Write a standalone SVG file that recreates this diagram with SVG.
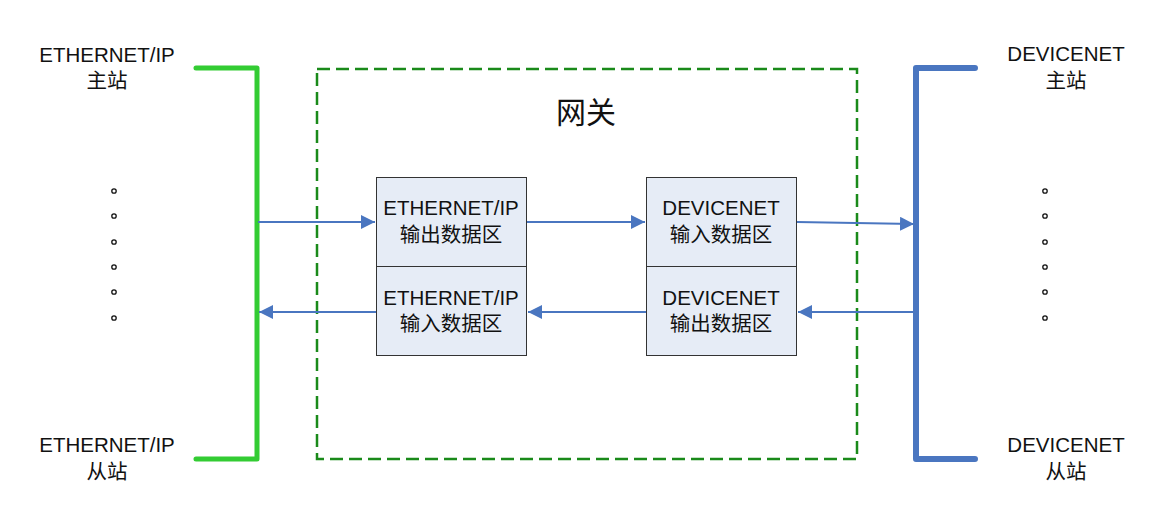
<svg xmlns="http://www.w3.org/2000/svg" width="1167" height="530" viewBox="0 0 1167 530">
<defs>
<style>
text{font-family:"Liberation Sans","Noto Sans CJK SC",sans-serif;font-size:20.5px;fill:#111;text-anchor:middle}
text.cjk{font-family:"Noto Sans CJK SC","Liberation Sans",sans-serif;font-size:20.5px}
.box{fill:#e6ecf6;stroke:#333;stroke-width:1}
.conn{stroke:#4a76c0;stroke-width:2;fill:none}
.dot{fill:none;stroke:#111;stroke-width:1.3}
</style>
<marker id="ah" viewBox="0 0 10 10" refX="10" refY="5" markerWidth="14" markerHeight="14" markerUnits="userSpaceOnUse" orient="auto"><path d="M0,0 L10,5 L0,10 z" fill="#4a76c0"/></marker>
</defs>
<rect width="1167" height="530" fill="#fff"/>
<g id="gateway">
<rect x="317" y="69" width="540" height="390" fill="none" stroke="#1a8a1a" stroke-width="2.5" stroke-dasharray="13,6"/>
<text class="cjk" x="586" y="123" style="font-size:30px">网关</text>
</g>
<g id="eth-bus">
<path d="M196,68 H257 V459 H196" fill="none" stroke="#33cc33" stroke-width="5" stroke-linecap="round" stroke-linejoin="round"/>
</g>
<g id="dn-bus">
<path d="M975,68 H916 V459 H975" fill="none" stroke="#4a76c0" stroke-width="6" stroke-linecap="round" stroke-linejoin="round"/>
</g>
<g id="eth-master"><text x="107" y="62">ETHERNET/IP</text><text class="cjk" x="107" y="88">主站</text></g>
<g id="eth-slave"><text x="107" y="452">ETHERNET/IP</text><text class="cjk" x="107" y="479">从站</text></g>
<g id="dn-master"><text x="1066" y="61">DEVICENET</text><text class="cjk" x="1066" y="88">主站</text></g>
<g id="dn-slave"><text x="1066" y="452">DEVICENET</text><text class="cjk" x="1066" y="479">从站</text></g>
<g id="eth-dots">
<circle class="dot" cx="114" cy="191" r="2.2"/><circle class="dot" cx="114" cy="216" r="2.2"/><circle class="dot" cx="114" cy="242" r="2.2"/><circle class="dot" cx="114" cy="267" r="2.2"/><circle class="dot" cx="114" cy="292" r="2.2"/><circle class="dot" cx="114" cy="318" r="2.2"/>
</g>
<g id="dn-dots">
<circle class="dot" cx="1045" cy="191" r="2.2"/><circle class="dot" cx="1045" cy="216" r="2.2"/><circle class="dot" cx="1045" cy="242" r="2.2"/><circle class="dot" cx="1045" cy="267" r="2.2"/><circle class="dot" cx="1045" cy="292" r="2.2"/><circle class="dot" cx="1045" cy="318" r="2.2"/>
</g>
<g id="eth-out"><rect class="box" x="376.5" y="177.5" width="150" height="89"/><text x="451" y="215">ETHERNET/IP</text><text class="cjk" x="451" y="242">输出数据区</text></g>
<g id="eth-in"><rect class="box" x="376.5" y="266.5" width="150" height="89"/><text x="451" y="305">ETHERNET/IP</text><text class="cjk" x="451" y="331">输入数据区</text></g>
<g id="dn-in"><rect class="box" x="646.5" y="177.5" width="150" height="89"/><text x="721" y="215">DEVICENET</text><text class="cjk" x="721" y="242">输入数据区</text></g>
<g id="dn-out"><rect class="box" x="646.5" y="266.5" width="150" height="89"/><text x="721" y="305">DEVICENET</text><text class="cjk" x="721" y="331">输出数据区</text></g>
<g id="connectors">
<line class="conn" x1="258" y1="222" x2="375" y2="222" marker-end="url(#ah)"/>
<line class="conn" x1="527" y1="222" x2="645" y2="222" marker-end="url(#ah)"/>
<line class="conn" x1="797" y1="222" x2="914" y2="224" marker-end="url(#ah)"/>
<line class="conn" x1="914" y1="312" x2="798" y2="312" marker-end="url(#ah)"/>
<line class="conn" x1="646" y1="312" x2="528" y2="312" marker-end="url(#ah)"/>
<line class="conn" x1="376" y1="312" x2="259" y2="312" marker-end="url(#ah)"/>
</g>
</svg>
